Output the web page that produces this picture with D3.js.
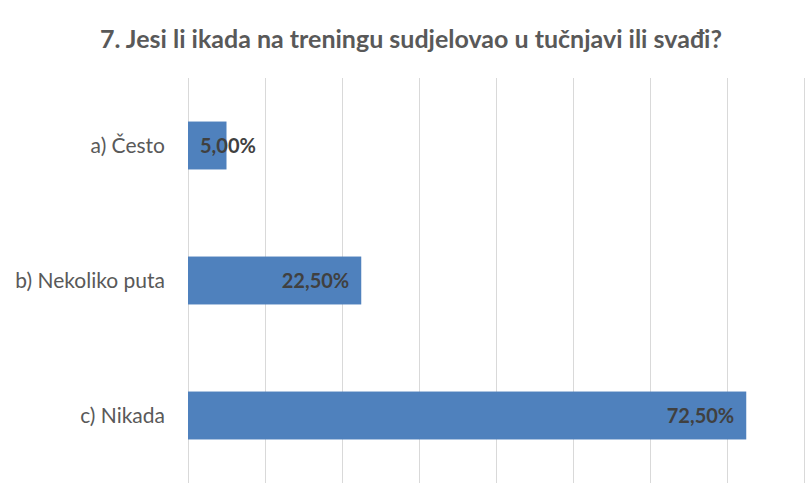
<!DOCTYPE html>
<html>
<head>
<meta charset="utf-8">
<script src="https://cdn.jsdelivr.net/npm/d3@7"></script>
<style>
  body { margin: 0; background: #fff; }
  svg text { font-family: Lato, "Open Sans", sans-serif; }
</style>
</head>
<body>
<div id="chart"></div>
<script>
// Data
var categories   =   ['a) Često', 'b) Nekoliko puta', 'c) Nikada'];
var values       =   [0.05, 0.225, 0.725];
var tick_values  =   [0, 0.1, 0.2, 0.3, 0.4, 0.5, 0.6, 0.7, 0.8];
var title        =   '7. Jesi li ikada na treningu sudjelovao u tučnjavi ili svađi?';

var chart_width  =   812;
var chart_height =   492;
var plot         =   { left: 188, right: 804, top: 78, bottom: 483 };

// Scales
var x_scale      =   d3.scaleLinear()
    .domain([0, 0.8])
    .range([plot.left, plot.right]);

var y_scale      =   d3.scaleBand()
    .domain(categories)
    .range([plot.top, plot.bottom])
    .paddingInner(0.645)
    .paddingOuter(0.3225);

var fmt = function(v) {
    return (v * 100).toFixed(2).replace('.', ',') + '%';
};

// SVG
var svg          =   d3.select('#chart')
    .append('svg')
    .attr('width', chart_width)
    .attr('height', chart_height);

// Title
svg.append('text')
    .attr('x', 411)
    .attr('y', 48)
    .attr('text-anchor', 'middle')
    .style('font-size', '25px')
    .style('font-weight', 'bold')
    .style('fill', '#595959')
    .text(title);

// Gridlines
svg.append('g')
    .selectAll('line')
    .data(tick_values)
    .enter()
    .append('line')
    .attr('x1', function(d) { return Math.round(x_scale(d)) + 0.5; })
    .attr('x2', function(d) { return Math.round(x_scale(d)) + 0.5; })
    .attr('y1', plot.top)
    .attr('y2', plot.bottom)
    .style('stroke', '#d9d9d9')
    .style('stroke-width', 1);

// Category labels
svg.append('g')
    .selectAll('text')
    .data(categories)
    .enter()
    .append('text')
    .attr('x', 165)
    .attr('y', function(d) { return y_scale(d) + y_scale.bandwidth() / 2; })
    .attr('dy', '0.35em')
    .attr('text-anchor', 'end')
    .style('font-size', '21px')
    .style('fill', '#595959')
    .text(function(d) { return d; });

// Bars
svg.append('g')
    .selectAll('rect')
    .data(values)
    .enter()
    .append('rect')
    .attr('x', x_scale(0))
    .attr('y', function(d, i) { return y_scale(categories[i]); })
    .attr('width', function(d) { return x_scale(d) - x_scale(0); })
    .attr('height', y_scale.bandwidth())
    .style('fill', '#4F81BD');

// Value labels
var labels = svg.append('g')
    .selectAll('text')
    .data(values)
    .enter()
    .append('text')
    .attr('y', function(d, i) { return y_scale(categories[i]) + y_scale.bandwidth() / 2; })
    .attr('dy', '0.35em')
    .attr('text-anchor', 'end')
    .style('font-size', '20px')
    .style('font-weight', 'bold')
    .style('fill', '#404040')
    .text(function(d) { return fmt(d); });

labels.attr('x', function(d) {
    var w = this.getComputedTextLength();
    return Math.max(x_scale(d) - 12, x_scale(0) + w + 12);
});
</script>
</body>
</html>
